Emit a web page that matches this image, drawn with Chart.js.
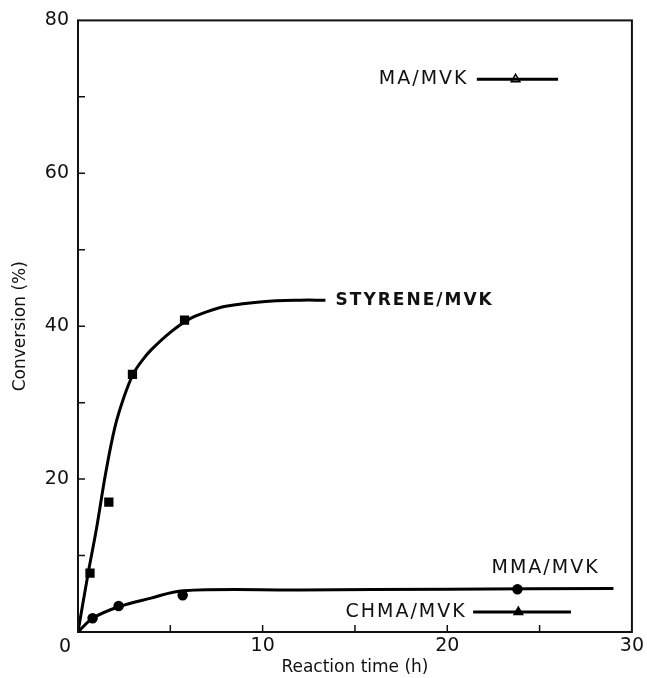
<!DOCTYPE html>
<html>
<head>
<meta charset="utf-8">
<script src="https://cdn.jsdelivr.net/npm/chart.js@4.4.1/dist/chart.umd.min.js"></script>
<style>
html,body{margin:0;padding:0;background:#fff;}
canvas{display:block;}
</style>
</head>
<body>
<canvas id="c" width="647" height="678"></canvas>
<script>
// ---- data ----
const styrenePoints = [[0.65,7.7],[1.67,17.0],[2.95,33.7],[5.77,40.8]];
const styreneCurve  = [[0,0],[0.55,7.7],[1,13.5],[1.5,20.8],[2,26.8],[2.5,30.8],[3,33.8],[3.5,35.6],[4,37.0],[5,39.2],[6,40.9],[7,41.9],[8,42.6],[10,43.2],[12,43.4],[13.4,43.4]];
const mmaPoints     = [[0.79,1.8],[2.2,3.4],[5.67,4.8],[23.8,5.6]];
const mmaCurve      = [[0,0],[0.8,1.8],[2.2,3.3],[3.9,4.4],[5.7,5.4],[12,5.5],[20,5.6],[29,5.7]];
const chmaPoint     = [[23.85,2.6]];
const chmaLine      = [[21.4,2.6],[26.7,2.6]];
const maPoint       = [[23.7,72.3]];
const maLine        = [[21.6,72.3],[26.0,72.3]];
const xTickMarks    = [5,10,15,20,25];
const yTickMarks    = [10,20,30,40,50,60,70];
const seriesLabels  = [
  {text:'MA/MVK',      x:21.15, y:72.3, align:'right', bold:false},
  {text:'STYRENE/MVK', x:13.95, y:43.3, align:'left',  bold:true},
  {text:'MMA/MVK',     x:22.4,  y:8.4,  align:'left',  bold:false},
  {text:'CHMA/MVK',    x:21.05, y:2.6,  align:'right', bold:false}
];

const toXY = a => a.map(p => ({x:p[0], y:p[1]}));
const FONT = "'DejaVu Sans', sans-serif";

const frame = {
  id:'frame',
  afterDraw(chart){
    const ctx = chart.ctx, a = chart.chartArea;
    const xs = chart.scales.x, ys = chart.scales.y;
    ctx.save();
    ctx.strokeStyle = '#111';
    ctx.lineWidth = 2;
    ctx.strokeRect(a.left, a.top, a.right - a.left, a.bottom - a.top);
    ctx.lineWidth = 1.5;
    ctx.beginPath();
    xTickMarks.forEach(v => { const px = xs.getPixelForValue(v); ctx.moveTo(px, a.bottom); ctx.lineTo(px, a.bottom - 7); });
    yTickMarks.forEach(v => { const py = ys.getPixelForValue(v); ctx.moveTo(a.left, py); ctx.lineTo(a.left + 7, py); });
    ctx.stroke();
    // origin label
    ctx.fillStyle = '#111';
    ctx.font = "19px " + FONT;
    ctx.textAlign = 'center';
    ctx.textBaseline = 'middle';
    ctx.fillText('0', xs.getPixelForValue(0) - 13, ys.getPixelForValue(0) + 15);
    // series labels
    seriesLabels.forEach(l => {
      ctx.font = (l.bold ? "bold 17px " : "19px ") + FONT;
      ctx.letterSpacing = '2px';
      ctx.textAlign = l.align;
      ctx.fillText(l.text, xs.getPixelForValue(l.x), ys.getPixelForValue(l.y));
    });
    ctx.restore();
  }
};

const lineDs = (data, w) => ({
  data: toXY(data), showLine:true, borderColor:'#000', borderWidth:w,
  pointRadius:0, tension:0.35, fill:false
});
const markDs = (data, style, r, bg) => ({
  data: toXY(data), showLine:false, pointStyle:style, pointRadius:r,
  backgroundColor:bg, borderColor:'#000', borderWidth:1.5
});

new Chart(document.getElementById('c'), {
  type:'scatter',
  data:{ datasets:[
    lineDs(styreneCurve, 3),
    lineDs(mmaCurve, 3),
    lineDs(chmaLine, 3),
    lineDs(maLine, 3),
    markDs(styrenePoints, 'rect', 5.5, '#000'),
    markDs(mmaPoints, 'circle', 4.5, '#000'),
    markDs(chmaPoint, 'triangle', 5, '#000'),
    markDs(maPoint, 'triangle', 5, '#fff')
  ]},
  options:{
    responsive:false, animation:false, devicePixelRatio:1,
    layout:{padding:{left:0,right:11,top:20,bottom:0}},
    plugins:{legend:{display:false}, tooltip:{enabled:false}},
    scales:{
      x:{
        type:'linear', min:0, max:30,
        grid:{display:false, drawTicks:false}, border:{display:false},
        ticks:{stepSize:10, color:'#111', padding:3, maxRotation:0,
               font:{family:FONT, size:19},
               callback:v => v === 0 ? '' : String(v)},
        title:{display:true, text:'Reaction time (h)', color:'#111',
               font:{family:FONT, size:17}, padding:{top:0,bottom:0}},
        afterFit:s => { s.height = 46; }
      },
      y:{
        type:'linear', min:0, max:80,
        grid:{display:false, drawTicks:false}, border:{display:false},
        ticks:{stepSize:20, color:'#111', padding:9,
               font:{family:FONT, size:19},
               callback:v => v === 0 ? '' : String(v)},
        title:{display:true, text:'Conversion (%)', color:'#111',
               font:{family:FONT, size:17}, padding:{top:10,bottom:0}},
        afterFit:s => { s.width = 78; }
      }
    }
  },
  plugins:[frame]
});
</script>
</body>
</html>
